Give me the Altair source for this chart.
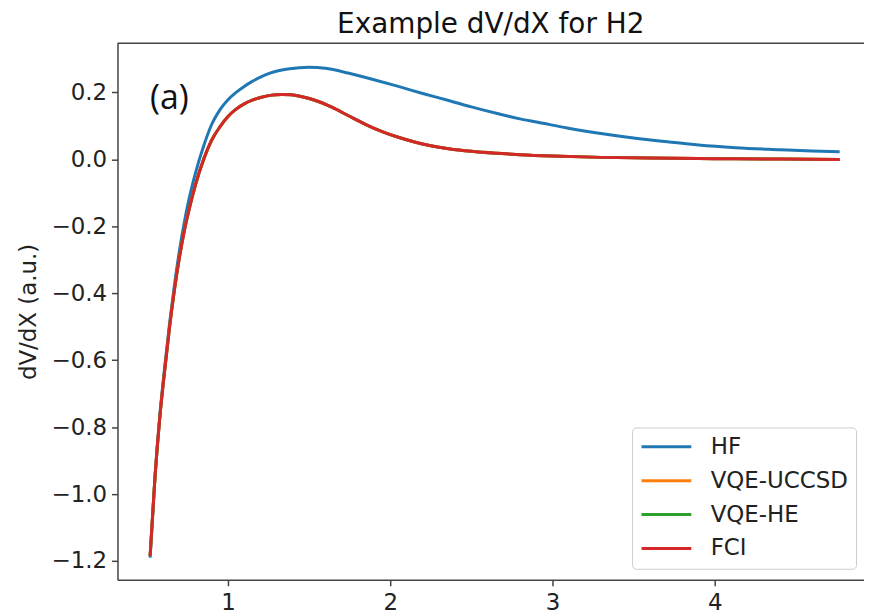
import altair as alt
import pandas as pd

# ---- data ----
series_names = ["HF", "VQE-UCCSD", "VQE-HE", "FCI"]
series_colors = ["#1f77b4", "#ff7f0e", "#2ca02c", "#d62728"]

hf_x = [0.52, 0.55, 0.58, 0.61, 0.64, 0.67, 0.70, 0.73, 0.76, 0.80, 0.85, 0.90, 0.95,
        1.0, 1.05, 1.1, 1.15, 1.2, 1.25, 1.31, 1.38, 1.44, 1.5, 1.6, 1.74, 1.9, 2.05,
        2.2, 2.36, 2.5, 2.66, 2.8, 2.91, 3.09, 3.32, 3.5, 3.72, 3.9, 4.13, 4.4, 4.6, 4.77]
hf_y = [-1.19, -0.95, -0.765, -0.62, -0.49, -0.375, -0.275, -0.19, -0.118, -0.04, 0.04, 0.105, 0.148,
        0.178, 0.2, 0.218, 0.233, 0.246, 0.256, 0.265, 0.271, 0.274, 0.275, 0.272, 0.258, 0.238, 0.218,
        0.197, 0.176, 0.157, 0.137, 0.121, 0.111, 0.094, 0.076, 0.064, 0.052, 0.043, 0.035, 0.029, 0.025, 0.023]

fci_x = [0.52, 0.55, 0.58, 0.61, 0.64, 0.67, 0.70, 0.73, 0.76, 0.80, 0.85, 0.90, 0.95,
         1.0, 1.05, 1.1, 1.15, 1.2, 1.27, 1.33, 1.39, 1.45, 1.54, 1.64, 1.74, 1.85, 1.95,
         2.05, 2.15, 2.25, 2.36, 2.5, 2.66, 2.8, 3.0, 3.3, 3.6, 4.0, 4.4, 4.77]
fci_y = [-1.185, -0.95, -0.77, -0.63, -0.50, -0.39, -0.295, -0.215, -0.15, -0.075, 0.0, 0.058, 0.097,
         0.128, 0.150, 0.166, 0.177, 0.185, 0.192, 0.194, 0.193, 0.188, 0.176, 0.156, 0.131, 0.104, 0.083,
         0.066, 0.052, 0.041, 0.032, 0.024, 0.018, 0.014, 0.010, 0.006, 0.004, 0.002, 0.001, 0.0]

# the VQE curves lie exactly under the FCI curve in the picture
uccsd_x = list(fci_x)
uccsd_y = list(fci_y)
he_x = list(fci_x)
he_y = list(fci_y)

x_ticks = [1, 2, 3, 4]
y_ticks = [-1.2, -1.0, -0.8, -0.6, -0.4, -0.2, 0.0, 0.2]

rows = []
for name, xs, ys in [("HF", hf_x, hf_y), ("VQE-UCCSD", uccsd_x, uccsd_y),
                     ("VQE-HE", he_x, he_y), ("FCI", fci_x, fci_y)]:
    for i, (a, b) in enumerate(zip(xs, ys)):
        rows.append({"series": name, "x": a, "y": b, "idx": i})
df = pd.DataFrame(rows)

W, H = 750, 539
xscale = alt.Scale(domain=[0.319, 4.92], nice=False, zero=False)
yscale = alt.Scale(domain=[-1.256, 0.347], nice=False, zero=False)

xenc = alt.X("x:Q", scale=xscale,
             axis=alt.Axis(values=x_ticks, format="d", title="", labelPadding=6))
yenc = alt.Y("y:Q", scale=yscale,
             axis=alt.Axis(values=y_ticks, format=".1f", title="dV/dX (a.u.)",
                           labelPadding=5, titleX=-89, titleY=H / 2, titleAngle=270,
                           titleAlign="center", titleBaseline="middle",
                           titleFontSize=23, titleFontWeight="normal",
                           titleFont="DejaVu Sans", titleColor="#222"))

legend = alt.Legend(orient="none", legendX=517, legendY=386, title=None,
                    symbolType="stroke", symbolSize=2500, symbolStrokeWidth=3,
                    labelFontSize=23, labelFont="DejaVu Sans", labelColor="#222",
                    labelOffset=18, rowPadding=10, clipHeight=23, padding=8,
                    fillColor="white", strokeColor="#cccccc", cornerRadius=4)

color = alt.Color("series:N", scale=alt.Scale(domain=series_names, range=series_colors),
                  legend=legend)

layers = []
for name in series_names:
    layers.append(
        alt.Chart(df).transform_filter(alt.datum.series == name)
        .mark_line(strokeWidth=3, interpolate="monotone")
        .encode(x=xenc, y=yenc, color=color, order="idx:Q")
    )

ann = pd.DataFrame({"x": [0.52], "y": [0.18], "t": ["(a)"]})
label = alt.Chart(ann).mark_text(align="left", baseline="middle", fontSize=34,
                                 font="Open Sans", fontWeight=500, color="#111").encode(
    x=alt.X("x:Q", scale=xscale), y=alt.Y("y:Q", scale=yscale), text="t:N")

top = alt.Chart(pd.DataFrame({"a": [0]})).mark_rule(color="#444", strokeWidth=1.5).encode(
    x=alt.value(0), x2=alt.value(W), y=alt.value(0))

chart = alt.layer(*layers, label, top).properties(
    width=W, height=H,
    title=alt.TitleParams("Example dV/dX for H2", fontSize=28, font="DejaVu Sans",
                          fontWeight="normal", color="#111", offset=4, anchor="middle"),
    autosize=alt.AutoSizeParams(type="none"),
    padding={"left": 110, "top": 34, "right": 0, "bottom": 33},
).configure_view(stroke="transparent").configure_axis(
    grid=False, domainColor="#444", domainWidth=1.5, tickColor="#444", tickWidth=1.5,
    tickSize=6, labelFont="DejaVu Sans", labelFontSize=23, labelColor="#222"
)

chart.save("out.html", embed_options={"renderer": "svg", "actions": False})
